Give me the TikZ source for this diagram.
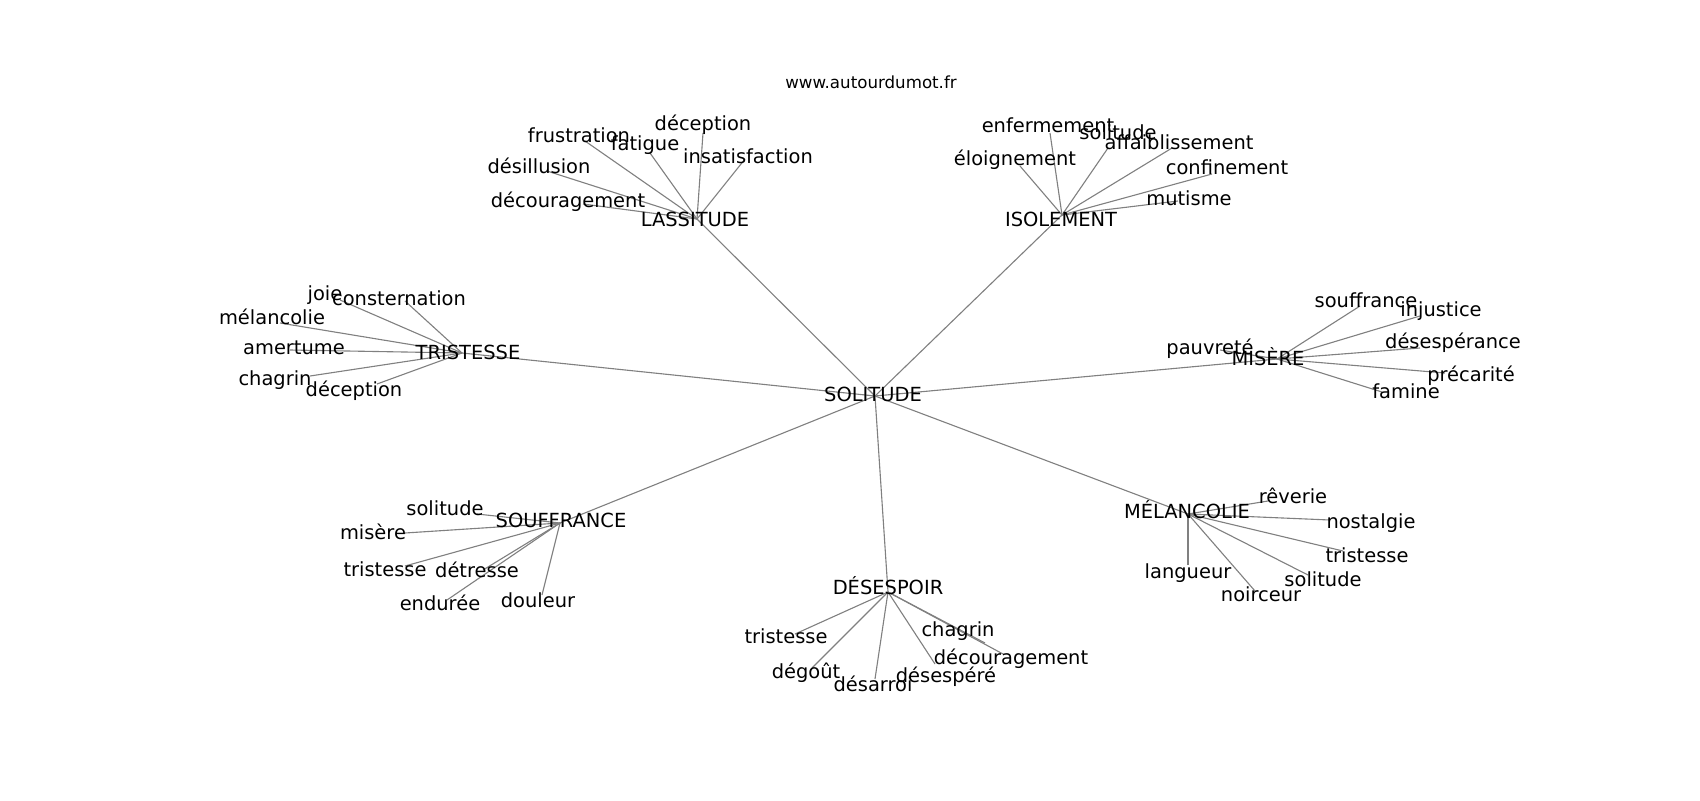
\documentclass[tikz,border=0pt]{standalone}
\usepackage{fontspec}
\setmainfont{DejaVu Sans}
\begin{document}
\begin{tikzpicture}[x=0.72pt,y=-0.72pt,
  lbl/.style={inner sep=0pt,anchor=center,text height=0.73em,text depth=0pt,yshift=-1.6pt,font=\fontsize{14}{16}\selectfont},
  ttl/.style={inner sep=0pt,anchor=center,text height=0.73em,text depth=0pt,yshift=-0.7pt,font=\fontsize{12}{14}\selectfont},
  edge/.style={draw=black!50,line width=0.8pt}]
\useasboundingbox (0,0) rectangle (1700,800);
% hub points
\coordinate (cSOL) at (875,396);
\coordinate (cLAS) at (697,219);
\coordinate (cISO) at (1062,215);
\coordinate (cTRI) at (462,353);
\coordinate (cMIS) at (1277,359);
\coordinate (cSOU) at (560,523);
\coordinate (cDES) at (888,592);
\coordinate (cMEL) at (1188,514);
% leaf points LASSITUDE
\coordinate (a1) at (585,141);
\coordinate (a2) at (650,153);
\coordinate (a3) at (703,133);
\coordinate (a4) at (745,159);
\coordinate (a5) at (547,171);
\coordinate (a6) at (583,204);
% ISOLEMENT
\coordinate (b1) at (1050,133);
\coordinate (b2) at (1108,148);
\coordinate (b3) at (1172,148);
\coordinate (b4) at (1020,166);
\coordinate (b5) at (1212,174);
\coordinate (b6) at (1178,201);
% TRISTESSE
\coordinate (t1) at (340,300);
\coordinate (t2) at (405,301);
\coordinate (t3) at (280,323);
\coordinate (t4) at (290,350);
\coordinate (t5) at (310,376);
\coordinate (t6) at (377,384);
% MISERE
\coordinate (m1) at (1360,306);
\coordinate (m2) at (1420,316);
\coordinate (m3) at (1420,348);
\coordinate (m4) at (1220,350);
\coordinate (m5) at (1445,373);
\coordinate (m6) at (1382,392);
% SOUFFRANCE
\coordinate (s1) at (477,514);
\coordinate (s2) at (405,533);
\coordinate (s3) at (405,566);
\coordinate (s4) at (483,570);
\coordinate (s5) at (447,600);
\coordinate (s6) at (542,595);
% DESESPOIR
\coordinate (d1) at (795,634);
\coordinate (d2) at (985,643);
\coordinate (d3) at (1003,654);
\coordinate (d4) at (812,668);
\coordinate (d5) at (935,664);
\coordinate (d6) at (875,679);
% MELANCOLIE
\coordinate (e1) at (1268,501);
\coordinate (e2) at (1330,520);
\coordinate (e3) at (1343,551);
\coordinate (e4) at (1188,565);
\coordinate (e5) at (1308,575);
\coordinate (e6) at (1255,591);
% edges
\foreach \h in {cLAS,cISO,cTRI,cMIS,cSOU,cDES,cMEL} \draw[edge] (cSOL) -- (\h);
\foreach \p in {a1,a2,a3,a4,a5,a6} \draw[edge] (cLAS) -- (\p);
\foreach \p in {b1,b2,b3,b4,b5,b6} \draw[edge] (cISO) -- (\p);
\foreach \p in {t1,t2,t3,t4,t5,t6} \draw[edge] (cTRI) -- (\p);
\foreach \p in {m1,m2,m3,m4,m5,m6} \draw[edge] (cMIS) -- (\p);
\foreach \p in {s1,s2,s3,s4,s5,s6} \draw[edge] (cSOU) -- (\p);
\foreach \p in {d1,d2,d3,d4,d5,d6} \draw[edge] (cDES) -- (\p);
\foreach \p in {e1,e2,e3,e4,e5,e6} \draw[edge] (cMEL) -- (\p);
% title
\node[ttl] (title) at (871,82) {www.autourdumot.fr};
% hub labels
\node[lbl] (lSOL) at (873,394) {SOLITUDE};
\node[lbl] (lLAS) at (695,219) {LASSITUDE};
\node[lbl] (lISO) at (1061,219) {ISOLEMENT};
\node[lbl] (lTRI) at (468,352) {TRISTESSE};
\node[lbl] (lMIS) at (1268,358) {MISÈRE};
\node[lbl] (lSOU) at (561,520) {SOUFFRANCE};
\node[lbl] (lDES) at (888,587) {DÉSESPOIR};
\node[lbl] (lMEL) at (1187,511) {MÉLANCOLIE};
% LASSITUDE leaves
\node[lbl] (la1) at (579,135) {frustration};
\node[lbl] (la2) at (645,143) {fatigue};
\node[lbl] (la3) at (703,123) {déception};
\node[lbl] (la4) at (748,156) {insatisfaction};
\node[lbl] (la5) at (539,166) {désillusion};
\node[lbl] (la6) at (568,200) {découragement};
% ISOLEMENT leaves
\node[lbl] (lb1) at (1048,125) {enfermement};
\node[lbl] (lb2) at (1118,132) {solitude};
\node[lbl] (lb3) at (1179,142) {affaiblissement};
\node[lbl] (lb4) at (1015,158) {éloignement};
\node[lbl] (lb5) at (1227,167) {confinement};
\node[lbl] (lb6) at (1189,198) {mutisme};
% TRISTESSE leaves
\node[lbl] (lt1) at (325,293) {joie};
\node[lbl] (lt2) at (399,298) {consternation};
\node[lbl] (lt3) at (272,317) {mélancolie};
\node[lbl] (lt4) at (294,347) {amertume};
\node[lbl] (lt5) at (275,378) {chagrin};
\node[lbl] (lt6) at (354,389) {déception};
% MISERE leaves
\node[lbl] (lm1) at (1366,300) {souffrance};
\node[lbl] (lm2) at (1441,309) {injustice};
\node[lbl] (lm3) at (1453,341) {désespérance};
\node[lbl] (lm4) at (1210,347) {pauvreté};
\node[lbl] (lm5) at (1471,374) {précarité};
\node[lbl] (lm6) at (1406,391) {famine};
% SOUFFRANCE leaves
\node[lbl] (ls1) at (445,508) {solitude};
\node[lbl] (ls2) at (373,532) {misère};
\node[lbl] (ls3) at (385,569) {tristesse};
\node[lbl] (ls4) at (477,570) {détresse};
\node[lbl] (ls5) at (440,603) {endurée};
\node[lbl] (ls6) at (538,600) {douleur};
% DESESPOIR leaves
\node[lbl] (ld1) at (786,636) {tristesse};
\node[lbl] (ld2) at (958,629) {chagrin};
\node[lbl] (ld3) at (1011,657) {découragement};
\node[lbl] (ld4) at (806,671) {dégoût};
\node[lbl] (ld5) at (946,675) {désespéré};
\node[lbl] (ld6) at (873,684) {désarroi};
% MELANCOLIE leaves
\node[lbl] (le1) at (1293,496) {rêverie};
\node[lbl] (le2) at (1371,521) {nostalgie};
\node[lbl] (le3) at (1367,555) {tristesse};
\node[lbl] (le4) at (1188,571) {langueur};
\node[lbl] (le5) at (1323,579) {solitude};
\node[lbl] (le6) at (1261,594) {noirceur};
\end{tikzpicture}
\end{document}
